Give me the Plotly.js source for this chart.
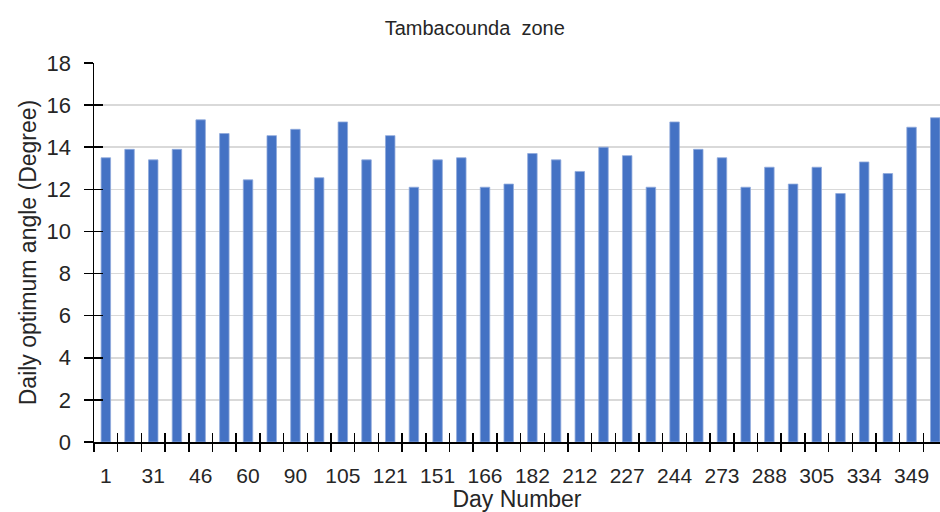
<!DOCTYPE html>
<html>
<head>
<meta charset="utf-8">
<script src="https://cdn.plot.ly/plotly-3.0.1.min.js"></script>
<style>html,body{margin:0;padding:0;background:#fff;}#chart{width:940px;height:512px;}</style>
</head>
<body>
<div id="chart"></div>
<script>
// Day numbers (1st, 15th and last day of each month)
const dayNumbers = [1, 15, 31, 32, 46, 59, 60, 74, 90, 91, 105, 120,
                    121, 135, 151, 152, 166, 181, 182, 196, 212, 213, 227, 243,
                    244, 258, 273, 274, 288, 304, 305, 319, 334, 335, 349, 365];
// Daily optimum tilt angle (degrees)
const optimumAngle = [13.5, 13.9, 13.4, 13.9, 15.3, 14.65, 12.45, 14.55, 14.85, 12.55, 15.2, 13.4,
                      14.55, 12.1, 13.4, 13.5, 12.1, 12.25, 13.7, 13.4, 12.85, 14.0, 13.6, 12.1,
                      15.2, 13.9, 13.5, 12.1, 13.05, 12.25, 13.05, 11.8, 13.3, 12.75, 14.95, 15.4];
// Shown tick labels: every other category
const labelDays = dayNumbers.filter((d, i) => i % 2 === 0);

const cats = dayNumbers.map(String);
const idx = dayNumbers.map((d, i) => i);
const boundaries = idx.map(i => i - 0.5).concat([dayNumbers.length - 0.5]);
const xRange = [-0.5, 35.2];

const FONT = 'Liberation Sans, Arial, sans-serif';
const TXT = '#262626';

// invisible helper traces so the overlay tick axes get drawn
function helper(extra) {
  return Object.assign({type: 'scatter', mode: 'markers', marker: {opacity: 0, size: 1},
                        hoverinfo: 'skip', showlegend: false}, extra);
}

const data = [
  {
    type: 'bar',
    x: cats,
    y: optimumAngle,
    marker: {color: '#4472C4', line: {color: '#8FAADC', width: 0.8}},
    hoverinfo: 'x+y'
  },
  helper({x: idx, y: optimumAngle, xaxis: 'x2', yaxis: 'y'}),
  helper({x: idx, y: optimumAngle, xaxis: 'x3', yaxis: 'y'}),
  helper({x: cats, y: optimumAngle, xaxis: 'x', yaxis: 'y2'})
];

const layout = {
  width: 940, height: 512,
  margin: {l: 94, r: 0, t: 63, b: 70},
  paper_bgcolor: '#ffffff', plot_bgcolor: '#ffffff',
  showlegend: false,
  bargap: 0.6,
  title: {
    text: 'Tambacounda  zone',
    font: {family: FONT, size: 20, color: TXT},
    xref: 'container', x: 0.505, xanchor: 'center',
    yref: 'container', y: 0.945, yanchor: 'middle'
  },
  xaxis: {
    type: 'category',
    range: xRange,
    tickmode: 'array',
    tickvals: labelDays.map(String),
    ticktext: labelDays.map(String),
    ticks: '',
    ticklabelstandoff: 14,
    tickfont: {family: FONT, size: 21, color: TXT},
    showline: true, linecolor: '#000000', linewidth: 1.5,
    showgrid: false, zeroline: false,
    title: {text: 'Day Number', font: {family: FONT, size: 23, color: TXT}, standoff: 0}
  },
  xaxis2: {
    overlaying: 'x', anchor: 'y', side: 'bottom', type: 'linear',
    range: xRange, tickmode: 'array', tickvals: boundaries,
    ticks: 'outside', ticklen: 9, tickwidth: 1.5, tickcolor: '#000000',
    showticklabels: false, showgrid: false, zeroline: false, showline: false
  },
  xaxis3: {
    overlaying: 'x', anchor: 'y', side: 'bottom', type: 'linear',
    range: xRange, tickmode: 'array', tickvals: boundaries,
    ticks: 'inside', ticklen: 9, tickwidth: 1.5, tickcolor: '#000000',
    showticklabels: false, showgrid: false, zeroline: false, showline: false
  },
  yaxis: {
    range: [0, 18], dtick: 2, tick0: 0,
    ticks: 'outside', ticklen: 9, tickwidth: 1.5, tickcolor: '#000000',
    ticklabelstandoff: 8,
    tickfont: {family: FONT, size: 22, color: TXT},
    showline: true, linecolor: '#000000', linewidth: 1.5,
    showgrid: true, gridcolor: '#d9d9d9', gridwidth: 1.5,
    zeroline: false,
    title: {text: 'Daily optimum angle (Degree)', font: {family: FONT, size: 23, color: TXT}, standoff: 3}
  },
  yaxis2: {
    overlaying: 'y', anchor: 'x', side: 'left',
    range: [0, 18], dtick: 2, tick0: 0,
    ticks: 'inside', ticklen: 9, tickwidth: 1.5, tickcolor: '#000000',
    showticklabels: false, showgrid: false, zeroline: false, showline: false
  }
};

Plotly.newPlot('chart', data, layout, {displayModeBar: false, staticPlot: true});
</script>
</body>
</html>
